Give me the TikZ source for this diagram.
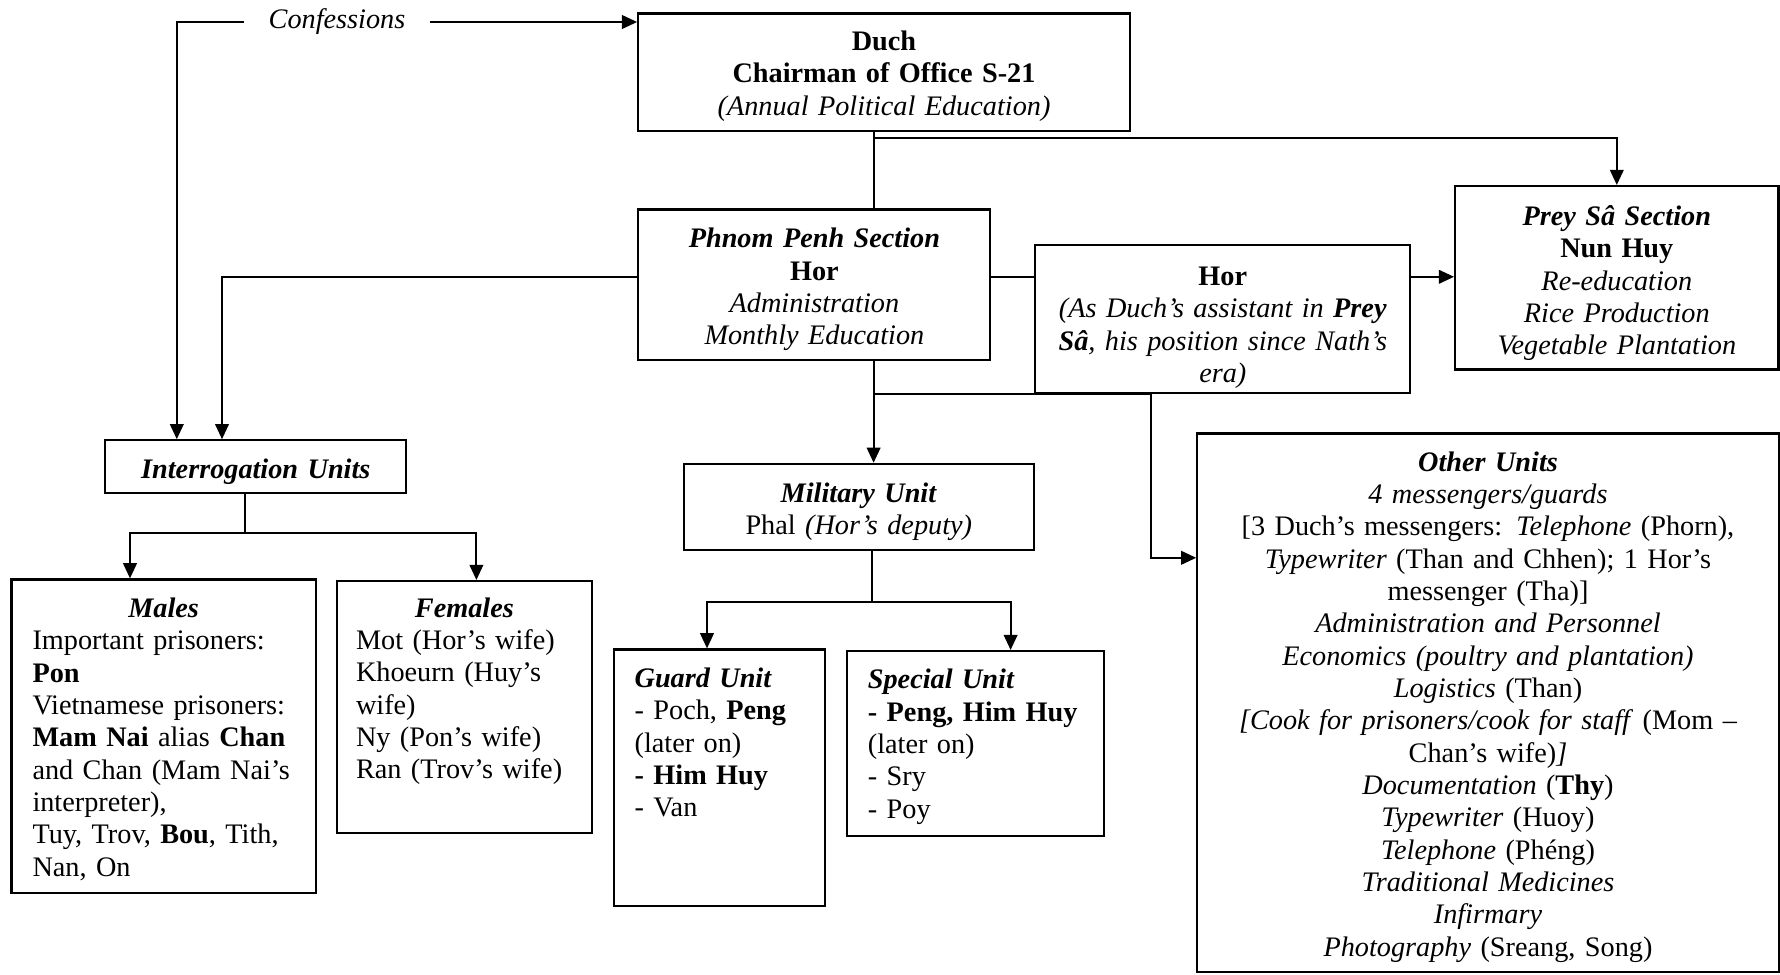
\documentclass[tikz,border=0pt]{standalone}
\usepackage{fontspec}
\setmainfont{Liberation Serif}
\usetikzlibrary{arrows.meta}
\begin{document}
\begin{tikzpicture}[line width=1.5pt,
    box/.style={draw, anchor=north, inner xsep=0.2cm, inner ysep=0pt, align=center,
      font=\fontsize{20.1}{23}\selectfont},
    leftbox/.style={box, align=left, inner xsep=0.52cm},
    arr/.style={-{Triangle[length=0.38cm,width=0.34cm]}}]
    \useasboundingbox[fill=white] (0,0) rectangle (44.5,-24.35);
    \node[box, text width=11.89cm, text height=0.93cm, text depth=2.01cm] (duch) at (22.10,-0.31)
      {\textbf{Duch}\\ \textbf{Chairman of Office S-21}\\ \textit{(Annual Political Education)}};
    \node[box, text width=8.40cm, text height=0.96cm, text depth=2.81cm] (pp) at (20.36,-5.21)
      {\textbf{\textit{Phnom Penh Section}}\\ \textbf{Hor}\\ \textit{Administration}\\ \textit{Monthly Education}};
    \node[box, text width=8.98cm, text height=1.01cm, text depth=2.69cm] (hor) at (30.57,-6.10)
      {\textbf{Hor}\\ \textit{(As Duch's assistant in \textbf{Prey}}\\ \textit{\textbf{Sâ}, his position since Nath's}\\ \textit{era)}};
    \node[box, text width=7.685cm, text height=0.99cm, text depth=3.595cm] (prey) at (40.42,-4.625)
      {\textbf{\textit{Prey Sâ Section}}\\ \textbf{Nun Huy}\\ \textit{Re-education}\\ \textit{Rice Production}\\ \textit{Vegetable Plantation}};
    \node[box, text width=7.13cm, text height=0.96cm, text depth=0.35cm] (intr) at (6.395,-10.98)
      {\textbf{\textit{Interrogation Units}}};
    \node[leftbox, inner xsep=0.525cm, text width=6.555cm, text height=0.95cm, text depth=6.89cm] (males) at (4.09,-14.46)
      {\makebox[\linewidth]{\textbf{\textit{Males}}}\\ Important prisoners:\\ \textbf{Pon}\\ Vietnamese prisoners:\\
       \textbf{Mam Nai} alias \textbf{Chan}\\ and Chan (Mam Nai's\\ interpreter),\\ Tuy, Trov, \textbf{Bou}, Tith,\\ Nan, On};
    \node[leftbox, inner xsep=0.48cm, text width=5.42cm, text height=0.905cm, text depth=5.39cm] (fem) at (11.61,-14.50)
      {\makebox[\linewidth]{\textbf{\textit{Females}}}\\ Mot (Hor's wife)\\ Khoeurn (Huy's\\ wife)\\ Ny (Pon's wife)\\ Ran (Trov's wife)};
    \node[box, text width=8.35cm, text height=0.96cm, text depth=1.20cm] (mil) at (21.47,-11.57)
      {\textbf{\textit{Military Unit}}\\ Phal \textit{(Hor's deputy)}};
    \node[leftbox, text width=4.25cm, text height=0.95cm, text depth=5.47cm] (guard) at (17.99,-16.21)
      {\textbf{\textit{Guard Unit}}\\ - Poch, \textbf{Peng}\\ (later on)\\ \textbf{- Him Huy}\\ - Van};
    \node[leftbox, text width=5.385cm, text height=0.945cm, text depth=3.68cm] (spec) at (24.39,-16.25)
      {\textbf{\textit{Special Unit}}\\ \textbf{- Peng, Him Huy}\\ (later on)\\ - Sry\\ - Poy};
    \node[box, text width=14.135cm, text height=0.94cm, text depth=12.53cm] (other) at (37.20,-10.81)
      {\textbf{\textit{Other Units}}\\ \textit{4 messengers/guards}\\
       {[}3 Duch's messengers: \textit{Telephone} (Phorn),\\
       \textit{Typewriter} (Than and Chhen); 1 Hor's\\ messenger (Tha)]\\
       \textit{Administration and Personnel}\\ \textit{Economics (poultry and plantation)}\\
       \textit{Logistics} (Than)\\ \textit{[Cook for prisoners/cook for staff} (Mom --\\
       Chan's wife)\textit{]}\\ \textit{Documentation} (\textbf{Thy})\\ \textit{Typewriter} (Huoy)\\
       \textit{Telephone} (Phéng)\\ \textit{Traditional Medicines}\\ \textit{Infirmary}\\
       \textit{Photography} (Sreang, Song)};
    \node[fill=white, inner xsep=0.6cm, font=\fontsize{20.1}{23}\selectfont\itshape] (conf) at (8.425,-0.55) {Confessions};
    \coordinate (c1) at (4.42,-0.55);
    \coordinate (t1) at (21.84,-3.44);
    \coordinate (t2) at (5.55,-6.92);
    \coordinate (t3) at (28.775,-13.945);
    \coordinate (t4) at (21.80,-15.04);
    \coordinate (t5) at (6.125,-13.33);
    \draw[arr] (conf.west) -- (c1) -- (c1 |- intr.north);
    \draw[arr] (conf.east) -- (conf.east -| duch.west);
    \draw (t1 |- duch.south) -- (t1 |- pp.north);
    \draw[arr] (t1) -- (t1 -| prey.north) -- (prey.north);
    \draw[arr] (t2 -| pp.west) -- (t2) -- (t2 |- intr.north);
    \draw (t2 -| pp.east) -- (t2 -| hor.west);
    \draw[arr] (t2 -| hor.east) -- (t2 -| prey.west);
    \draw[arr] (t1 |- pp.south) -- (t1 |- mil.north);
    \draw[arr] (t1 |- hor.south) -- (t3 |- hor.south) -- (t3) -- (t3 -| other.west);
    \draw (t4 |- mil.south) -- (t4);
    \draw[arr] (t4) -| ([xshift=-0.315cm]guard.north);
    \draw[arr] (t4) -| ([xshift=0.875cm]spec.north);
    \draw (t5 |- intr.south) -- (t5);
    \draw[arr] (t5) -| ([xshift=-0.84cm]males.north);
    \draw[arr] (t5) -| ([xshift=0.30cm]fem.north);
\end{tikzpicture}
\end{document}
